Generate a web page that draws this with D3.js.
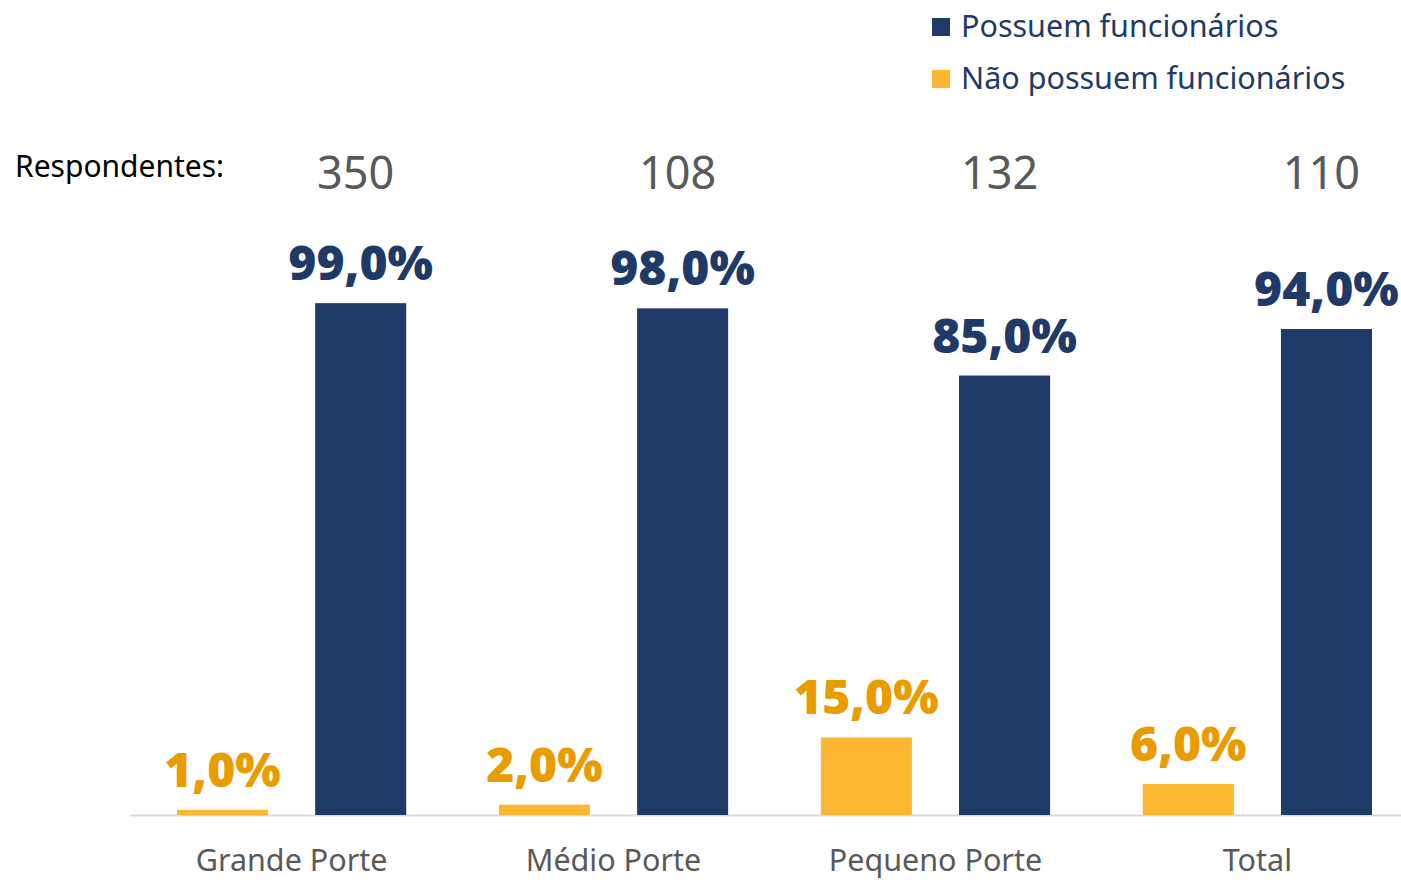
<!DOCTYPE html>
<html>
<head>
<meta charset="utf-8">
<script src="https://cdn.jsdelivr.net/npm/d3@7"></script>
<style>
  html, body { margin: 0; padding: 0; background: #ffffff; }
  svg { display: block; }
  text { font-family: "Noto Sans", sans-serif; }
</style>
</head>
<body>
<svg id="chart" width="1401" height="880"></svg>
<script>
const categories = ["Grande Porte", "Médio Porte", "Pequeno Porte", "Total"];
const respondents = ["350", "108", "132", "110"];
const seriesNames = ["Não possuem funcionários", "Possuem funcionários"];
const naoPossuem = [1.0, 2.0, 15.0, 6.0];
const possuem = [99.0, 98.0, 85.0, 94.0];
const legendOrder = ["Possuem funcionários", "Não possuem funcionários"];

const colors = { "Possuem funcionários": "#1f3a68", "Não possuem funcionários": "#fbb731" };
const labelColors = { "Possuem funcionários": "#1f3a68", "Não possuem funcionários": "#e89c00" };

const rows = categories.map((c, i) => ({
  cat: c, resp: respondents[i],
  values: [
    { key: seriesNames[0], v: naoPossuem[i] },
    { key: seriesNames[1], v: possuem[i] }
  ]
}));

const svg = d3.select("#chart");
const baseY = 815;
const y = d3.scaleLinear().domain([0, 100]).range([baseY, 298]);
const x0 = d3.scaleBand().domain(categories).range([130, 1419]).paddingInner(0.288).paddingOuter(0.146);
const x1 = d3.scaleBand().domain(seriesNames).range([0, x0.bandwidth()]).paddingInner(0.341).paddingOuter(0);

const fmt = v => v.toFixed(1).replace(".", ",") + "%";

// axis line
svg.append("line").attr("x1", 130).attr("x2", 1401).attr("y1", baseY + 0.5).attr("y2", baseY + 0.5)
  .attr("stroke", "#d9d9d9").attr("stroke-width", 2);

const g = svg.selectAll("g.grp").data(rows).join("g").attr("class", "grp")
  .attr("transform", d => `translate(${x0(d.cat)},0)`);

g.selectAll("rect").data(d => d.values).join("rect")
  .attr("x", d => x1(d.key)).attr("width", x1.bandwidth())
  .attr("y", d => y(d.v)).attr("height", d => baseY - y(d.v))
  .attr("fill", d => colors[d.key]);

g.selectAll("text.val").data(d => d.values).join("text").attr("class", "val")
  .attr("x", d => x1(d.key) + x1.bandwidth() / 2)
  .attr("y", d => y(d.v) - 23)
  .attr("text-anchor", "middle")
  .attr("font-size", 48).attr("font-weight", 900)
  .attr("fill", d => labelColors[d.key])
  .text(d => fmt(d.v));

// category labels
svg.selectAll("text.cat").data(categories).join("text").attr("class", "cat")
  .attr("x", d => x0(d) + x0.bandwidth() / 2).attr("y", 871)
  .attr("text-anchor", "middle").attr("font-size", 30.5).attr("fill", "#595959")
  .text(d => d);

// respondents
svg.append("text").attr("x", 15).attr("y", 177).attr("font-size", 30).attr("fill", "#000")
  .text("Respondentes:");
svg.selectAll("text.resp").data(rows).join("text").attr("class", "resp")
  .attr("x", d => x0(d.cat) + x1(seriesNames[1]) + x1.bandwidth() / 2 - 5).attr("y", 189)
  .attr("text-anchor", "middle").attr("font-size", 45).attr("fill", "#595959")
  .text(d => d.resp);

// legend
const lg = svg.selectAll("g.leg").data(legendOrder).join("g").attr("class", "leg")
  .attr("transform", (d, i) => `translate(932,${18 + i * 52})`);
lg.append("rect").attr("width", 18).attr("height", 18).attr("fill", d => colors[d]);
lg.append("text").attr("x", 29).attr("y", 19).attr("font-size", 30.5).attr("fill", "#1f3a68").text(d => d);
</script>
</body>
</html>
